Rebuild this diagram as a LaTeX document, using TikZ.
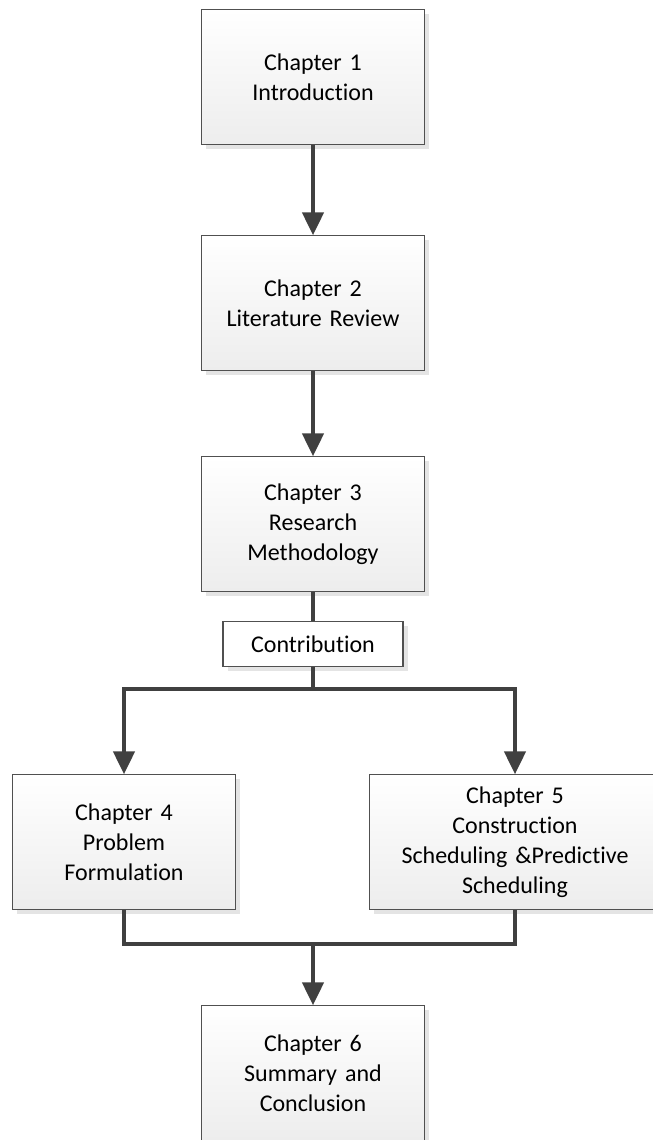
\documentclass[tikz,border=0pt]{standalone}
\usepackage{fontspec}
\setmainfont{Carlito}[Ligatures={TeX,NoCommon}, WordSpace=0.85]
\usepackage{tikz}
\usetikzlibrary{arrows.meta,shapes,positioning,shadows}

\definecolor{boxline}{HTML}{505050}
\definecolor{linkline}{HTML}{404040}
\definecolor{boxshade}{HTML}{EDEDED}
\definecolor{shadowgray}{HTML}{E4E4E4}

\begin{document}
\begin{tikzpicture}[
		x=0.75pt, y=-0.75pt,
		basic/.style   = {draw=boxline, line width=0.8pt, rectangle, inner sep=2pt, align=center,
		                  font=\fontsize{18}{22.5}\selectfont,
		                  drop shadow={shadow xshift=3.5pt, shadow yshift=-3.5pt, fill=shadowgray, opacity=1}},
		chapter/.style = {basic, top color=white, bottom color=boxshade, text width=160pt,
		                  minimum width=167pt, minimum height=101pt},
		wide chapter/.style = {chapter, text width=210pt, minimum width=218pt},
		note/.style    = {basic, fill=white, text width=130pt, minimum width=135pt, minimum height=34pt},
		link/.style    = {draw=linkline, line width=2.3pt},
		arrow/.style   = {link, -{Triangle[length=17pt,width=16pt]}}]

		\useasboundingbox (0,0) rectangle (653,1140);

		% main column of chapters
		\node[chapter] (ch1) at (313,77) {Chapter 1\\Introduction};
		\node[chapter] (ch2) at (313,303) {Chapter 2\\Literature Review};
		\node[chapter] (ch3) at (313,524) {Chapter 3\\Research\\Methodology};
		\node[note] (contrib) at (313,644) {Contribution};

		% the two branches
		\node[chapter] (ch4) at (124,842) {Chapter 4\\Problem\\Formulation};
		\node[wide chapter] (ch5) at (515,842) {Chapter 5\\Construction\\Scheduling \&Predictive\\Scheduling};

		% last chapter
		\node[chapter] (ch6) at (313,1073) {Chapter 6\\Summary and\\Conclusion};

		% join points of the connectors
		\coordinate (split) at (313,689);
		\coordinate (merge) at (313,944);

		\draw[arrow] (ch1) -- (ch2);
		\draw[arrow] (ch2) -- (ch3);
		\draw[link] (ch3) -- (contrib);
		\draw[link] (contrib) -- (split);

		\draw[arrow] (split) -| (ch4.north);
		\draw[arrow] (split) -| (ch5.north);

		\draw[link] (ch4.south) |- (merge) -| (ch5.south);
		\draw[arrow] (merge) -- (ch6);

	\end{tikzpicture}
\end{document}
